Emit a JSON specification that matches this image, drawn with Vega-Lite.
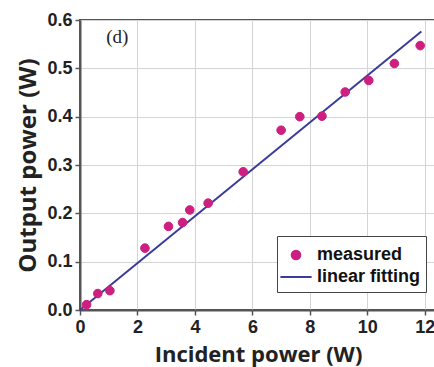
{
  "$schema": "https://vega.github.io/schema/vega-lite/v6.json",
  "width": 356,
  "height": 290,
  "autosize": {"type": "none"},
  "padding": {"left": 80, "top": 20, "right": 0, "bottom": 57},
  "background": "white",
  "view": {"stroke": "#555", "strokeWidth": 2},
  "datasets": {
    "measured": [
      {"x": 0.23, "y": 0.011, "series": "measured"},
      {"x": 0.62, "y": 0.034, "series": "measured"},
      {"x": 1.04, "y": 0.040, "series": "measured"},
      {"x": 2.26, "y": 0.128, "series": "measured"},
      {"x": 3.08, "y": 0.173, "series": "measured"},
      {"x": 3.57, "y": 0.181, "series": "measured"},
      {"x": 3.82, "y": 0.207, "series": "measured"},
      {"x": 4.46, "y": 0.221, "series": "measured"},
      {"x": 5.68, "y": 0.286, "series": "measured"},
      {"x": 7.0, "y": 0.372, "series": "measured"},
      {"x": 7.65, "y": 0.400, "series": "measured"},
      {"x": 8.42, "y": 0.401, "series": "measured"},
      {"x": 9.23, "y": 0.451, "series": "measured"},
      {"x": 10.05, "y": 0.475, "series": "measured"},
      {"x": 10.94, "y": 0.510, "series": "measured"},
      {"x": 11.84, "y": 0.547, "series": "measured"}
    ],
    "fit": [
      {"x": 0.0, "y": 0.0, "series": "linear fitting"},
      {"x": 11.88, "y": 0.576, "series": "linear fitting"}
    ],
    "label": [
      {"x": 1.3, "y": 0.552, "text": "(d)"}
    ]
  },
  "layer": [
    {
      "data": {"name": "fit"},
      "mark": {"type": "line", "strokeWidth": 2},
      "encoding": {
        "x": {
          "field": "x", "type": "quantitative",
          "scale": {"domain": [0, 12.39], "nice": false, "zero": false},
          "axis": {
            "title": "Incident power (W)",
            "values": [0,1,2,3,4,5,6,7,8,9,10,11,12],
            "labelExpr": "datum.value % 2 === 0 ? datum.label : ''",
            "grid": true, "gridColor": "#d4d4d4", "gridWidth": 1,
            "domainColor": "#555", "domainWidth": 2,
            "tickColor": "#555", "tickSize": 5, "tickWidth": 1.5,
            "labelFont": "Liberation Sans", "labelFontWeight": "bold", "labelFontSize": 18, "labelColor": "#222",
            "labelPadding": 3, "labelFlush": false,
            "titleFont": "Open Sans", "titleFontWeight": "bold", "titleFontSize": 22, "titleColor": "#222",
            "titlePadding": 8
          }
        },
        "y": {
          "field": "y", "type": "quantitative",
          "scale": {"domain": [0, 0.6], "nice": false, "zero": false},
          "axis": {
            "title": "Output power (W)",
            "values": [0,0.05,0.1,0.15,0.2,0.25,0.3,0.35,0.4,0.45,0.5,0.55,0.6],
            "labelExpr": "abs(datum.value*10 - round(datum.value*10)) < 0.001 ? format(datum.value, '.1f') : ''",
            "grid": true, "gridColor": "#d4d4d4", "gridWidth": 1,
            "domainColor": "#555", "domainWidth": 2,
            "tickColor": "#555", "tickSize": 5, "tickWidth": 1.5,
            "labelFont": "Liberation Sans", "labelFontWeight": "bold", "labelFontSize": 18, "labelColor": "#222",
            "labelPadding": 3, "labelFlush": false,
            "titleFont": "Open Sans", "titleFontWeight": "bold", "titleFontSize": 24, "titleColor": "#222",
            "titlePadding": 6
          }
        },
        "stroke": {
          "field": "series", "type": "nominal",
          "scale": {"domain": ["measured", "linear fitting"], "range": ["#cc1f7f", "#3b3b9a"]}
        }
      }
    },
    {
      "data": {"name": "measured"},
      "mark": {"type": "point", "filled": true, "size": 576, "strokeWidth": 1, "opacity": 1},
      "encoding": {
        "x": {"field": "x", "type": "quantitative"},
        "y": {"field": "y", "type": "quantitative"},
        "fill": {
          "field": "series", "type": "nominal",
          "scale": {"domain": ["measured", "linear fitting"], "range": ["#cc1f7f", "#3b3b9a"]}
        },
        "stroke": {
          "field": "series", "type": "nominal",
          "scale": {"domain": ["measured", "linear fitting"], "range": ["#cc1f7f", "#3b3b9a"]}
        },
        "shape": {
          "field": "series", "type": "nominal",
          "scale": {"domain": ["measured", "linear fitting"], "range": ["M-0.36,0A0.36,0.36,0,1,1,0.36,0A0.36,0.36,0,1,1,-0.36,0Z", "M-1.3,0H1.3"]},
          "legend": {
            "title": null,
            "orient": "none",
            "legendX": 197,
            "legendY": 216
          }
        }
      }
    },
    {
      "data": {"name": "label"},
      "mark": {"type": "text", "font": "Liberation Serif", "fontSize": 19, "color": "#222", "align": "center", "baseline": "alphabetic"},
      "encoding": {
        "x": {"field": "x", "type": "quantitative"},
        "y": {"field": "y", "type": "quantitative"},
        "text": {"field": "text"}
      }
    }
  ],
  "config": {
    "legend": {
      "symbolSize": 576,
      "symbolStrokeWidth": 2,
      "labelFont": "Liberation Sans",
      "labelFontWeight": "bold",
      "labelFontSize": 18,
      "labelColor": "#111",
      "labelOffset": 8,
      "strokeColor": "#444",
      "fillColor": "white",
      "padding": 6,
      "rowPadding": 0,
      "cornerRadius": 0
    }
  }
}
